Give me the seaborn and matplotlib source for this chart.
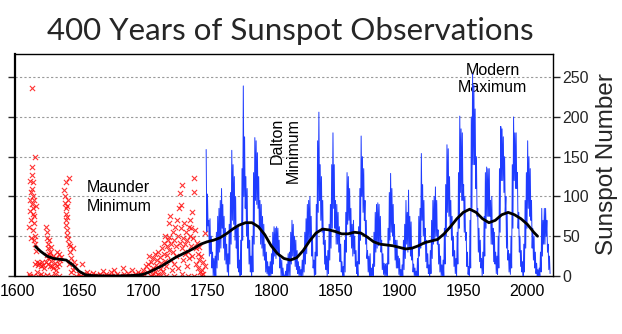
import matplotlib
matplotlib.use("Agg")
import matplotlib.pyplot as plt
import matplotlib.transforms as mtransforms
import numpy as np
import pandas as pd
import seaborn as sns

# Monthly sunspot record 1749-2017, summarised per year as the highest and
# lowest monthly value of that year.
blue_years = list(range(1749, 2018))
monthly_high = [
    159, 103, 70, 72, 50, 30, 22, 25, 55, 75,
    85, 95, 110, 90, 75, 60, 40, 28, 65, 105,
    158, 140, 125, 100, 60, 65, 20, 45, 135, 239,
    175, 125, 110, 65, 45, 25, 50, 130, 174, 170,
    155, 125, 95, 90, 75, 65, 40, 30, 18, 12,
    18, 28, 55, 62, 60, 62, 60, 45, 22, 20,
    10, 1, 6, 15, 28, 30, 55, 70, 65, 50,
    45, 32, 18, 12, 8, 20, 32, 55, 72, 90,
    95, 100, 75, 48, 20, 30, 90, 170, 206, 140,
    125, 95, 60, 45, 25, 32, 65, 90, 140, 180,
    140, 95, 90, 80, 62, 40, 18, 12, 45, 80,
    130, 125, 110, 85, 65, 70, 50, 32, 18, 62,
    110, 176, 150, 135, 95, 70, 32, 25, 28, 10,
    15, 55, 80, 90, 92, 90, 75, 45, 28, 16,
    15, 16, 60, 105, 129, 110, 90, 65, 45, 45,
    25, 22, 8, 14, 45, 65, 95, 80, 108, 75,
    68, 35, 15, 10, 6, 22, 75, 85, 154, 115,
    95, 60, 45, 28, 14, 32, 70, 95, 100, 112,
    95, 58, 40, 25, 14, 20, 60, 115, 165, 160,
    125, 95, 75, 50, 32, 22, 55, 130, 201, 185,
    180, 115, 100, 55, 30, 12, 70, 200, 254, 240,
    210, 150, 85, 60, 45, 22, 30, 75, 130, 137,
    135, 135, 95, 100, 60, 55, 30, 25, 50, 135,
    188, 185, 175, 150, 100, 80, 32, 28, 50, 140,
    200, 180, 180, 130, 80, 50, 32, 18, 40, 95,
    130, 170, 150, 135, 95, 60, 50, 30, 16, 8,
    10, 30, 85, 70, 85, 85, 70, 40, 25,
]
monthly_low = [
    56, 63, 25, 28, 10, 0, 0, 0, 10, 20,
    30, 35, 60, 35, 20, 15, 5, 0, 15, 40,
    70, 65, 45, 35, 10, 5, 0, 2, 45, 100,
    85, 50, 35, 15, 5, 0, 5, 40, 95, 90,
    85, 60, 40, 35, 25, 20, 5, 3, 0, 0,
    0, 3, 15, 25, 22, 30, 25, 10, 0, 0,
    0, 0, 0, 0, 0, 0, 15, 25, 20, 12,
    8, 3, 0, 0, 0, 0, 5, 15, 28, 40,
    42, 45, 25, 10, 0, 2, 25, 80, 95, 70,
    55, 40, 15, 8, 0, 3, 20, 35, 60, 85,
    60, 40, 40, 30, 18, 5, 0, 0, 5, 30,
    65, 70, 50, 35, 25, 28, 12, 3, 0, 15,
    45, 100, 80, 70, 40, 22, 5, 0, 0, 0,
    0, 12, 30, 35, 38, 40, 30, 8, 2, 0,
    0, 0, 15, 45, 55, 50, 40, 20, 10, 10,
    2, 0, 0, 0, 8, 22, 40, 30, 35, 25,
    20, 5, 0, 0, 0, 0, 25, 35, 70, 50,
    40, 18, 10, 3, 0, 3, 22, 40, 45, 50,
    40, 15, 5, 0, 0, 0, 15, 50, 80, 75,
    60, 45, 25, 12, 3, 0, 15, 60, 105, 95,
    95, 55, 45, 12, 2, 0, 10, 85, 140, 140,
    110, 75, 30, 18, 10, 0, 3, 25, 60, 75,
    75, 75, 40, 40, 18, 15, 3, 2, 10, 55,
    120, 120, 105, 80, 35, 20, 5, 2, 10, 60,
    120, 110, 110, 60, 30, 12, 5, 0, 5, 35,
    60, 85, 75, 70, 35, 20, 10, 3, 0, 0,
    0, 5, 25, 40, 40, 50, 30, 8, 3,
]

# Early telescopic observations (group sunspot numbers), 1610-1748
red_years = [
    1611.0, 1611.5, 1612.0, 1612.3, 1612.6, 1613.0, 1613.2, 1613.5, 1613.4, 1613.7,
    1613.9, 1614.1, 1614.3, 1614.5, 1614.8, 1615.0, 1615.3, 1615.6, 1615.8, 1616.2,
    1616.5, 1612.5, 1614.0, 1615.2, 1611.8, 1613.1, 1611.0, 1612.0, 1614.0, 1617.0,
    1616.0, 1617.0, 1618.0, 1619.0, 1620.0, 1621.0, 1622.0, 1623.0, 1624.0, 1626.0,
    1627.0, 1628.0, 1629.0, 1630.0, 1631.0, 1632.0, 1633.0, 1634.0, 1618.0, 1620.0,
    1622.0, 1625.0, 1628.0, 1631.0, 1634.0, 1624.5, 1625.0, 1625.3, 1625.6, 1626.0,
    1626.3, 1626.8, 1627.2, 1625.8, 1624.8, 1627.5, 1628.0, 1630.0, 1632.0, 1634.0,
    1635.0, 1636.0, 1633.0, 1638.5, 1639.0, 1639.2, 1639.5, 1639.8, 1640.0, 1640.2,
    1640.5, 1640.7, 1641.0, 1641.5, 1639.6, 1640.3, 1640.8, 1641.8, 1642.5, 1642.8,
    1643.0, 1644.0, 1645.0, 1646.0, 1647.0, 1645.5, 1642.0, 1643.5, 1648.0, 1650.0,
    1651.0, 1652.0, 1653.0, 1655.0, 1656.0, 1657.0, 1658.0, 1660.0, 1661.0, 1662.0,
    1663.0, 1665.0, 1666.0, 1667.0, 1669.0, 1670.0, 1671.0, 1672.0, 1674.0, 1675.0,
    1676.0, 1677.0, 1678.0, 1680.0, 1681.0, 1682.0, 1684.0, 1685.0, 1686.0, 1688.0,
    1689.0, 1690.0, 1691.0, 1692.0, 1694.0, 1695.0, 1696.0, 1697.0, 1698.0, 1699.0,
    1700.0, 1701.0, 1702.0, 1703.0, 1704.0, 1705.0, 1705.5, 1706.0, 1707.0, 1707.5,
    1708.0, 1709.0, 1709.5, 1710.0, 1711.0, 1711.5, 1712.0, 1713.0, 1713.5, 1714.0,
    1715.0, 1715.5, 1716.0, 1716.5, 1717.0, 1717.5, 1718.0, 1718.5, 1719.0, 1719.5,
    1720.0, 1720.3, 1720.6, 1721.0, 1721.5, 1722.0, 1722.5, 1723.0, 1723.5, 1724.0,
    1724.5, 1725.0, 1725.5, 1726.0, 1726.5, 1727.0, 1727.5, 1728.0, 1728.5, 1729.0,
    1729.3, 1729.6, 1730.0, 1730.5, 1731.0, 1731.5, 1732.0, 1732.5, 1733.0, 1733.5,
    1734.0, 1734.5, 1735.0, 1735.5, 1736.0, 1736.5, 1737.0, 1737.3, 1737.6, 1738.0,
    1738.5, 1739.0, 1739.5, 1740.0, 1740.5, 1741.0, 1741.5, 1742.0, 1742.5, 1743.0,
    1743.5, 1744.0, 1744.5, 1745.0, 1746.0, 1746.5, 1747.0, 1748.0, 1748.5, 1706.0,
    1710.0, 1714.0, 1718.0, 1724.0, 1730.0, 1735.0, 1740.0, 1745.0,
]
red_values = [
    62, 95, 120, 70, 48, 137, 127, 236, 110, 100,
    85, 78, 58, 45, 95, 66, 50, 150, 40, 32,
    88, 105, 118, 75, 82, 91, 2, 0, 0, 5,
    15, 18, 14, 16, 12, 18, 14, 10, 17, 15,
    12, 19, 13, 10, 16, 8, 12, 15, 0, 2,
    0, 1, 0, 3, 0, 62, 55, 48, 40, 35,
    28, 45, 30, 22, 26, 24, 37, 25, 22, 28,
    20, 24, 30, 108, 100, 92, 85, 78, 70, 64,
    58, 52, 46, 96, 118, 88, 74, 40, 123, 38,
    30, 22, 35, 18, 12, 8, 15, 5, 0, 3,
    0, 15, 2, 0, 5, 0, 2, 0, 4, 0,
    1, 0, 3, 0, 6, 0, 2, 0, 0, 5,
    0, 8, 0, 3, 0, 0, 10, 2, 0, 4,
    0, 0, 7, 0, 2, 0, 5, 0, 3, 0,
    8, 2, 12, 5, 15, 25, 8, 18, 3, 22,
    10, 28, 5, 14, 20, 2, 30, 9, 24, 16,
    35, 6, 28, 42, 19, 50, 12, 38, 26, 45,
    49, 66, 33, 76, 20, 40, 8, 55, 30, 45,
    15, 62, 38, 25, 70, 50, 10, 85, 42, 104,
    89, 60, 114, 35, 48, 20, 66, 40, 28, 55,
    12, 45, 30, 62, 22, 50, 70, 60, 38, 80,
    25, 48, 123, 106, 58, 35, 15, 42, 28, 10,
    36, 20, 5, 25, 8, 18, 3, 54, 12, 0,
    0, 1, 0, 0, 2, 0, 0, 1,
]

# Long-term smoothed average
trend_years = [
    1616, 1620, 1625, 1630, 1635, 1640, 1645, 1650, 1655, 1660,
    1670, 1680, 1690, 1695, 1700, 1705, 1710, 1715, 1720, 1725,
    1730, 1735, 1740, 1745, 1750, 1755, 1760, 1765, 1770, 1775,
    1780, 1785, 1790, 1795, 1800, 1805, 1810, 1815, 1820, 1825,
    1830, 1835, 1840, 1845, 1850, 1855, 1860, 1865, 1870, 1875,
    1880, 1885, 1890, 1895, 1900, 1905, 1910, 1915, 1920, 1925,
    1930, 1935, 1940, 1945, 1950, 1955, 1960, 1965, 1970, 1975,
    1980, 1985, 1990, 1995, 2000, 2005, 2008,
]
trend_values = [
    37, 31, 25, 22, 21, 20, 14, 6, 1.5, 0.5,
    0, 0, 0.5, 1, 2, 5, 9, 13, 18, 23,
    27, 31, 35, 40, 43, 45, 48, 53, 59, 64,
    67, 67, 62, 52, 38, 28, 22, 20, 23, 32,
    44, 54, 59, 58, 56, 53, 53, 55, 54, 49,
    43, 40, 39, 38, 36, 34, 35, 38, 42, 44,
    46, 53, 62, 72, 80, 84, 80, 72, 67, 70,
    77, 80, 77, 72, 65, 55, 50,
]

x_ticks = [1600, 1650, 1700, 1750, 1800, 1850, 1900, 1950, 2000]
y_ticks = [0, 50, 100, 150, 200, 250]

# Zigzag through the yearly extremes to trace the monthly record
blue_df = pd.DataFrame({
    "year": np.concatenate([np.array(blue_years) + 0.25, np.array(blue_years) + 0.75]),
    "ssn": np.concatenate([monthly_high, monthly_low]),
}).sort_values("year")
red_df = pd.DataFrame({"year": red_years, "ssn": red_values})
trend_df = pd.DataFrame({"year": trend_years, "ssn": trend_values})

sns.set_style("white")
plt.rcParams["font.family"] = ["Liberation Sans", "DejaVu Sans"]

fig = plt.figure(figsize=(6.22, 3.34), dpi=100)
ax = fig.add_axes([0.0241, 0.1737, 0.8649, 0.6643])

ax.yaxis.grid(True, color="#9a9a9a", linestyle=(0, (2, 2)), linewidth=0.8)
ax.set_axisbelow(True)

sns.scatterplot(data=red_df, x="year", y="ssn", marker="x", s=14, color="#ff1010",
                linewidth=0.8, alpha=0.85, ax=ax, legend=False, zorder=2)
sns.lineplot(data=blue_df, x="year", y="ssn", color="#1f3cff", linewidth=0.7,
             estimator=None, sort=False, ax=ax, legend=False, zorder=3)
sns.lineplot(data=trend_df, x="year", y="ssn", color="black", linewidth=2.0,
             estimator=None, ax=ax, legend=False, zorder=4)

ax.set_xlim(1600, 2020)
ax.set_ylim(0, 279)
ax.set_xticks(x_ticks)
ax.set_yticks(y_ticks)
ax.set_xlabel("")
ax.set_ylabel("")
ax.tick_params(axis="x", direction="out", length=4, width=1, labelsize=11.5,
               colors="black", pad=2)
ax.tick_params(axis="y", left=True, right=True, labelleft=False, labelright=True,
               direction="out", length=5, width=1, labelsize=11.5, pad=2)
for side, spine in ax.spines.items():
    spine.set_visible(True)
    spine.set_color("black")
    spine.set_linewidth(1.0)
ax.spines["left"].set_linewidth(1.6)

# nudge the first year label so it stays inside the canvas
first = ax.get_xticklabels()[0]
first.set_transform(first.get_transform()
                    + mtransforms.ScaledTranslation(3 / 100, 0, fig.dpi_scale_trans))

txt = dict(fontsize=11.5, color="black", ha="center", va="center")
ax.text(1681, 99, "Maunder\nMinimum", linespacing=1.35, **txt)
ax.text(1811, 158, "Dalton\nMinimum", rotation=90, multialignment="right",
        linespacing=1.15, **txt)
ax.text(1973, 248, "Modern\nMaximum", linespacing=1.2, zorder=1, **txt)

fig.text(0.466, 1 - 40 / 334, "400 Years of Sunspot Observations", ha="center",
         va="baseline", fontsize=22.5, family=["Lato", "DejaVu Sans"])
fig.text(0.976, 0.51, "Sunspot Number", rotation=90, ha="center", va="center",
         fontsize=17.5)

fig.savefig("out.png", dpi=100, facecolor="white")
